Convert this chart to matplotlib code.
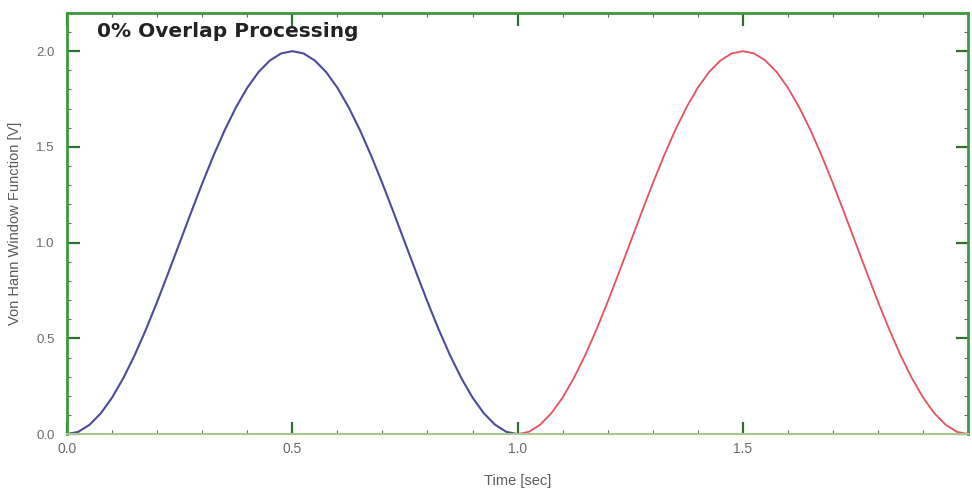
import numpy as np
import matplotlib.pyplot as plt
from matplotlib.ticker import MultipleLocator

# window samples (every 0.025 s)
t_first = [0.000, 0.025, 0.050, 0.075, 0.100, 0.125, 0.150, 0.175, 0.200, 0.225,
           0.250, 0.275, 0.300, 0.325, 0.350, 0.375, 0.400, 0.425, 0.450, 0.475,
           0.500, 0.525, 0.550, 0.575, 0.600, 0.625, 0.650, 0.675, 0.700, 0.725,
           0.750, 0.775, 0.800, 0.825, 0.850, 0.875, 0.900, 0.925, 0.950, 0.975, 1.000]
t_second = [1.000, 1.025, 1.050, 1.075, 1.100, 1.125, 1.150, 1.175, 1.200, 1.225,
            1.250, 1.275, 1.300, 1.325, 1.350, 1.375, 1.400, 1.425, 1.450, 1.475,
            1.500, 1.525, 1.550, 1.575, 1.600, 1.625, 1.650, 1.675, 1.700, 1.725,
            1.750, 1.775, 1.800, 1.825, 1.850, 1.875, 1.900, 1.925, 1.950, 1.975, 2.000]
window_vals = [0.000, 0.012, 0.049, 0.109, 0.191, 0.293, 0.412, 0.546, 0.691, 0.844,
               1.000, 1.156, 1.309, 1.454, 1.588, 1.707, 1.809, 1.891, 1.951, 1.988,
               2.000, 1.988, 1.951, 1.891, 1.809, 1.707, 1.588, 1.454, 1.309, 1.156,
               1.000, 0.844, 0.691, 0.546, 0.412, 0.293, 0.191, 0.109, 0.049, 0.012, 0.000]

plt.rcParams['font.family'] = ['Liberation Sans', 'DejaVu Sans']

fig = plt.figure(figsize=(9.72, 4.95), dpi=100)
ax = fig.add_axes([0.069, 0.123, 0.927, 0.851])

ax.plot(t_first, window_vals, color='#4b4b9e', lw=1.5, solid_joinstyle='round')
ax.plot(t_second, window_vals, color='#e8505c', lw=1.3, solid_joinstyle='round')

ax.set_xlim(0, 2.0)
ax.set_ylim(0, 2.2)
ax.xaxis.set_major_locator(MultipleLocator(0.5))
ax.xaxis.set_minor_locator(MultipleLocator(0.1))
ax.yaxis.set_major_locator(MultipleLocator(0.5))
ax.yaxis.set_minor_locator(MultipleLocator(0.1))
ax.set_xticks([0.0, 0.5, 1.0, 1.5])
ax.set_xticklabels(['0.0', '0.5', '1.0', '1.5'])

ax.tick_params(which='both', direction='in', top=True, right=True,
               labelcolor='#6a6a6a')
ax.tick_params(axis='x', labelsize=10, pad=6)
ax.tick_params(axis='y', labelsize=9.5, pad=9)
ax.tick_params(which='major', length=9, width=1.6, color='#2f6e2f')
ax.tick_params(which='minor', length=3, width=0.8, color='#666666')

for side in ['left', 'top', 'right']:
    ax.spines[side].set_color('#3c9a3c')
    ax.spines[side].set_linewidth(2)
ax.spines['bottom'].set_color('#a8c890')
ax.spines['bottom'].set_linewidth(1.5)

ax.set_xlabel('Time [sec]', fontsize=10.5, color='#5a5a5a')
ax.xaxis.set_label_coords(0.5, -0.095)
ax.set_ylabel('Von Hann Window Function [V]', fontsize=10.5, color='#5a5a5a')
ax.yaxis.set_label_coords(-0.05, 0.5)

ax.text(0.033, 0.978, '0% Overlap Processing', transform=ax.transAxes,
        fontsize=14.5, fontweight='bold', color='#222222', va='top', ha='left',
        family='DejaVu Sans')

fig.savefig('out.png', dpi=100)
